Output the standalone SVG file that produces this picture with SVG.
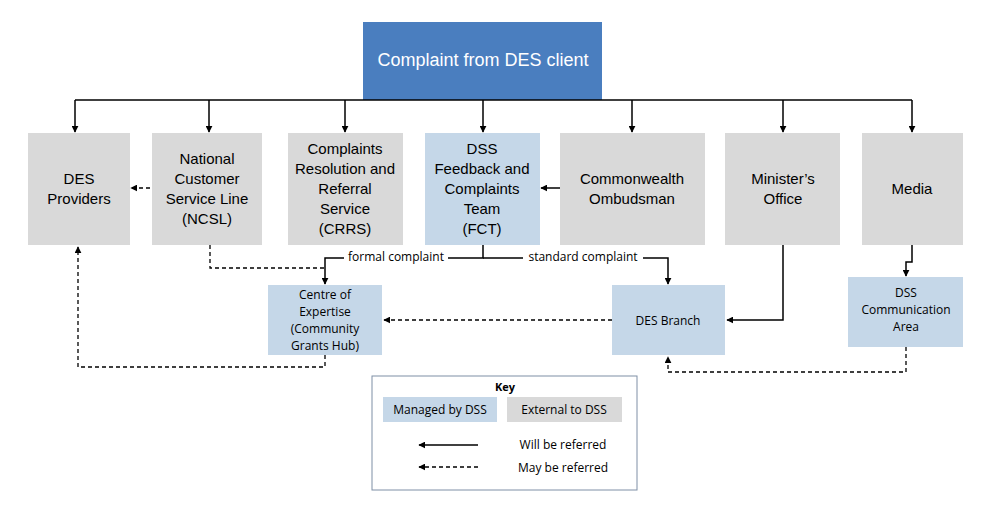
<svg xmlns="http://www.w3.org/2000/svg" width="994" height="520" viewBox="0 0 994 520">
<style>
.g{fill:#d9d9d9}
.b{fill:#c5d7e8}
.t{font-family:"Liberation Sans",Arial,sans-serif;font-size:15px;fill:#000;text-anchor:middle}
.s{font-family:"Open Sans","Liberation Sans",sans-serif;font-size:12px;fill:#000;text-anchor:middle}
.l{fill:none;stroke:#000;stroke-width:1.5}
.d{fill:none;stroke:#000;stroke-width:1.3;stroke-dasharray:4,3}
</style>
<defs>
<marker id="a" viewBox="0 0 10 10" refX="9" refY="5" markerWidth="7" markerHeight="7" orient="auto" markerUnits="userSpaceOnUse"><path d="M0,0L10,5L0,10z" fill="#000"/></marker>
</defs>
<rect width="994" height="520" fill="#fff"/>
<g id="top"><rect x="363" y="22" width="239" height="78" fill="#4a7ebf"/><text x="483" y="66" class="t" style="font-size:18px;fill:#fff">Complaint from DES client</text></g>
<g id="desprov"><rect class="g" x="28" y="133" width="102" height="112"/><text class="t" x="79" y="184">DES</text><text class="t" x="79" y="204">Providers</text></g>
<g id="ncsl"><rect class="g" x="152" y="133" width="110" height="112"/><text class="t" x="207" y="164">National</text><text class="t" x="207" y="184">Customer</text><text class="t" x="207" y="204">Service Line</text><text class="t" x="207" y="224">(NCSL)</text></g>
<g id="crrs"><rect class="g" x="288" y="133" width="115" height="112"/><text class="t" x="345" y="154">Complaints</text><text class="t" x="345" y="174">Resolution and</text><text class="t" x="345" y="194">Referral</text><text class="t" x="345" y="214">Service</text><text class="t" x="345" y="234">(CRRS)</text></g>
<g id="fct"><rect class="b" x="425" y="133" width="115" height="112"/><text class="t" x="482" y="154">DSS</text><text class="t" x="482" y="174">Feedback and</text><text class="t" x="482" y="194">Complaints</text><text class="t" x="482" y="214">Team</text><text class="t" x="482" y="234">(FCT)</text></g>
<g id="omb"><rect class="g" x="560" y="133" width="145" height="112"/><text class="t" x="632" y="184">Commonwealth</text><text class="t" x="632" y="204">Ombudsman</text></g>
<g id="min"><rect class="g" x="725" y="133" width="115" height="112"/><text class="t" x="783" y="184">Minister’s</text><text class="t" x="783" y="204">Office</text></g>
<g id="media"><rect class="g" x="862" y="133" width="101" height="112"/><text class="t" x="912" y="194">Media</text></g>
<g id="coe"><rect class="b" x="268" y="285" width="114" height="70"/><text class="s" x="325" y="299">Centre of</text><text class="s" x="325" y="316">Expertise</text><text class="s" x="325" y="333">(Community</text><text class="s" x="325" y="350">Grants Hub)</text></g>
<g id="desb"><rect class="b" x="612" y="285" width="113" height="70"/><text class="s" x="668" y="325">DES Branch</text></g>
<g id="comm"><rect class="b" x="848" y="277" width="115" height="70"/><text class="s" x="906" y="297">DSS</text><text class="s" x="906" y="314">Communication</text><text class="s" x="906" y="331">Area</text></g>
<g id="connectors">
<path class="l" d="M483,100V100M75,100H912M483,100V100"/>
<path class="l" d="M483,100V100"/>
<path class="l" d="M483,100V100"/>
<path class="l" d="M483,100V100"/>
<path class="l" d="M483,100V100"/>
<path class="l" d="M483,100V100"/>
<path class="l" d="M483,100V100"/>
<path class="l" d="M483,100V100"/>
<path class="l" d="M483,100V100"/>
<path class="l" d="M483,100V100"/>
<path class="l" d="M483,100V100"/>
<path class="l" d="M483,100V100"/>
<path class="l" d="M483,100V100"/>
<path class="l" d="M483,100V100"/>
<path class="l" d="M75,100V132" marker-end="url(#a)"/>
<path class="l" d="M209,100V132" marker-end="url(#a)"/>
<path class="l" d="M345,100V132" marker-end="url(#a)"/>
<path class="l" d="M483,100V132" marker-end="url(#a)"/>
<path class="l" d="M632,100V132" marker-end="url(#a)"/>
<path class="l" d="M783,100V132" marker-end="url(#a)"/>
<path class="l" d="M912,100V132" marker-end="url(#a)"/>
<path class="d" d="M150,188H131" marker-end="url(#a)"/>
<path class="l" d="M560,188H541" marker-end="url(#a)"/>
<path class="l" d="M483,245V258H325V284" marker-end="url(#a)"/>
<path class="l" d="M483,258H668V284" marker-end="url(#a)"/>
<rect x="344" y="250" width="104" height="14" fill="#fff"/>
<text class="s" x="396" y="261">formal complaint</text>
<rect x="523" y="250" width="120" height="14" fill="#fff"/>
<text class="s" x="583" y="261">standard complaint</text>
<path class="d" d="M210,245V268H325"/>
<path class="d" d="M612,320H384" marker-end="url(#a)"/>
<path class="l" d="M783,245V320H727" marker-end="url(#a)"/>
<path class="l" d="M912,245V262H906V276" marker-end="url(#a)"/>
<path class="d" d="M325,355V367H78V247" marker-end="url(#a)"/>
<path class="d" d="M906,347V372H668V357" marker-end="url(#a)"/>
</g>
<g id="key">
<rect x="372" y="376" width="265" height="114" fill="#fff" stroke="#7f8fa6"/>
<text class="s" x="505" y="391" style="font-size:11px;font-weight:bold">Key</text>
<rect class="b" x="383" y="397" width="114" height="25"/><text class="s" x="440" y="414">Managed by DSS</text>
<rect class="g" x="507" y="397" width="115" height="25"/><text class="s" x="564" y="414">External to DSS</text>
<path class="l" d="M478,445H419" marker-end="url(#a)"/><text class="s" x="563" y="449">Will be referred</text>
<path class="d" d="M478,467H419" marker-end="url(#a)"/><text class="s" x="563" y="472">May be referred</text>
</g>
</svg>
